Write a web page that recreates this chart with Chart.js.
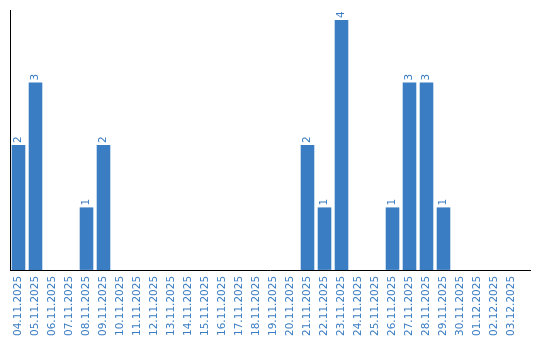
<!DOCTYPE html>
<html><head><meta charset="utf-8">
<script src="https://cdn.jsdelivr.net/npm/chart.js@4/dist/chart.umd.min.js"></script>
<style>html,body{margin:0;padding:0;background:#fff;}#wrap{width:540px;height:340px;}</style>
</head><body><div id="wrap"><canvas id="c" width="540" height="340"></canvas></div>
<script>
const categories = ["04.11.2025","05.11.2025","06.11.2025","07.11.2025","08.11.2025","09.11.2025","10.11.2025","11.11.2025","12.11.2025","13.11.2025","14.11.2025","15.11.2025","16.11.2025","17.11.2025","18.11.2025","19.11.2025","20.11.2025","21.11.2025","22.11.2025","23.11.2025","24.11.2025","25.11.2025","26.11.2025","27.11.2025","28.11.2025","29.11.2025","30.11.2025","01.12.2025","02.12.2025","03.12.2025"];
const counts = [2,3,0,0,1,2,0,0,0,0,0,0,0,0,0,0,0,2,1,4,0,0,1,3,3,1,0,0,0,0];
const barColor = '#3b7dc2';
const textColor = '#3b7dc2';

const valueLabels = {
  id: 'valueLabels',
  afterDatasetsDraw(chart) {
    const ctx = chart.ctx;
    const meta = chart.getDatasetMeta(0);
    ctx.save();
    ctx.font = '10.5px "DejaVu Sans"';
    ctx.fillStyle = textColor;
    ctx.textAlign = 'left';
    ctx.textBaseline = 'middle';
    meta.data.forEach((el, i) => {
      const v = counts[i];
      if (!v) return;
      ctx.save();
      ctx.translate(el.x, el.y - 2);
      ctx.rotate(-Math.PI / 2);
      ctx.fillText(String(v), 0, 0);
      ctx.restore();
    });
    ctx.restore();
  },
  afterDraw(chart) {
    const ctx = chart.ctx;
    const a = chart.chartArea;
    const y = Math.round(a.bottom) + 0.5;
    ctx.save();
    ctx.strokeStyle = '#000';
    ctx.lineWidth = 1;
    ctx.beginPath();
    ctx.moveTo(Math.round(a.left), y);
    ctx.lineTo(531, y);
    ctx.stroke();
    ctx.restore();
  }
};

new Chart(document.getElementById('c'), {
  type: 'bar',
  data: { labels: categories, datasets: [{ data: counts, backgroundColor: barColor, borderWidth: 0, categoryPercentage: 1.0, barPercentage: 0.8 }] },
  options: {
    responsive: false, animation: false,
    layout: { padding: { left: 10, top: 10, right: 20, bottom: -2 } },
    plugins: { legend: { display: false }, tooltip: { enabled: false } },
    scales: {
      x: {
        grid: { display: false, drawTicks: false },
        border: { display: false },
        ticks: { color: textColor, font: { family: 'DejaVu Sans', size: 10.5 }, minRotation: 90, maxRotation: 90, autoSkip: false, padding: 6 }
      },
      y: {
        min: 0, max: 4.16,
        grid: { display: false, drawTicks: false },
        border: { display: true, color: '#000', width: 1 },
        ticks: { display: false }
      }
    }
  },
  plugins: [valueLabels]
});
</script></body></html>
